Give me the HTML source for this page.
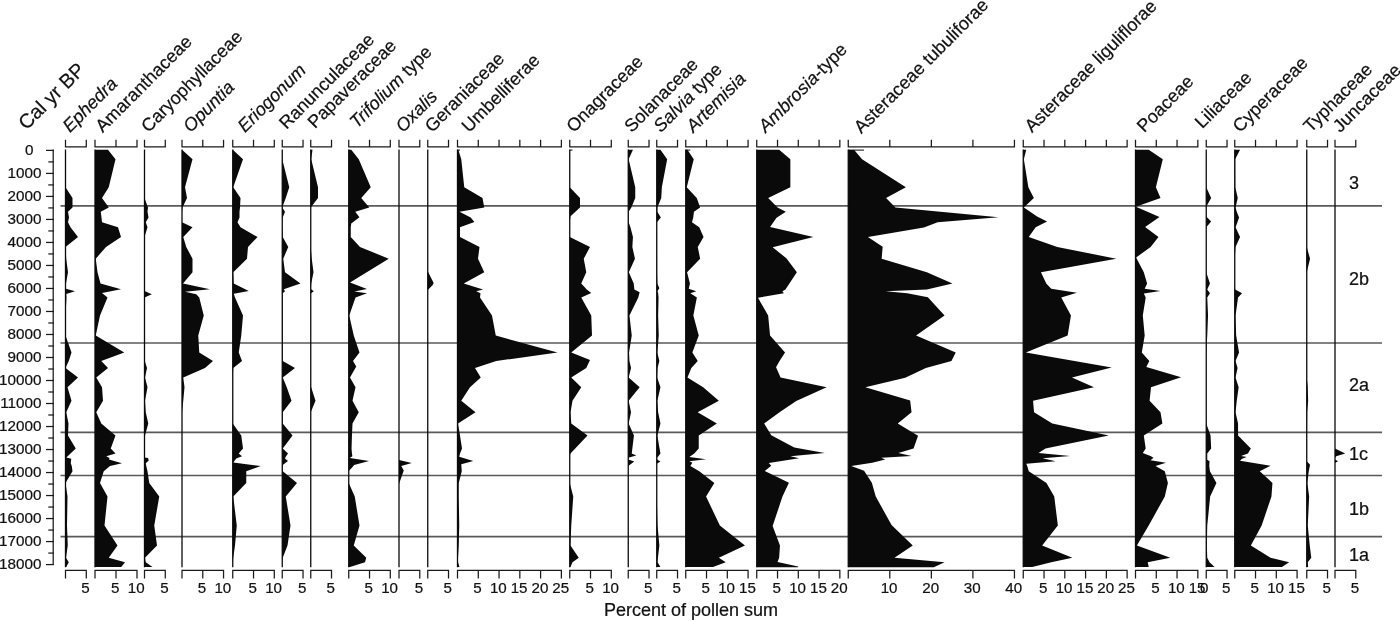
<!DOCTYPE html>
<html><head><meta charset="utf-8"><title>Pollen diagram</title>
<style>
html,body{margin:0;padding:0;background:#fff;}
body{width:1400px;height:621px;position:relative;overflow:hidden;font-family:"Liberation Sans",sans-serif;}
.t{font-family:"Liberation Sans",sans-serif;fill:#111;stroke:#111;stroke-width:0.22px;}
</style></head><body>
<svg width="1400" height="621" viewBox="0 0 1400 621" style="position:absolute;left:0;top:0;will-change:transform">
<rect width="1400" height="621" fill="#fff"/>
<line x1="60.5" y1="205.85" x2="1382" y2="205.85" stroke="#5a5a5a" stroke-width="1.7"/>
<line x1="60.5" y1="343.0" x2="1382" y2="343.0" stroke="#5a5a5a" stroke-width="1.7"/>
<line x1="60.5" y1="432.4" x2="1382" y2="432.4" stroke="#5a5a5a" stroke-width="1.7"/>
<line x1="60.5" y1="475.5" x2="1382" y2="475.5" stroke="#5a5a5a" stroke-width="1.7"/>
<line x1="60.5" y1="536.7" x2="1382" y2="536.7" stroke="#5a5a5a" stroke-width="1.7"/>
<line x1="53.2" y1="149.4" x2="53.2" y2="565.1" stroke="#1a1a1a" stroke-width="1.25"/>
<line x1="46.0" y1="150.40" x2="53.8" y2="150.40" stroke="#1a1a1a" stroke-width="1.25"/>
<line x1="48.3" y1="161.91" x2="53.8" y2="161.91" stroke="#1a1a1a" stroke-width="1.25"/>
<line x1="46.0" y1="173.41" x2="53.8" y2="173.41" stroke="#1a1a1a" stroke-width="1.25"/>
<line x1="48.3" y1="184.92" x2="53.8" y2="184.92" stroke="#1a1a1a" stroke-width="1.25"/>
<line x1="46.0" y1="196.42" x2="53.8" y2="196.42" stroke="#1a1a1a" stroke-width="1.25"/>
<line x1="48.3" y1="207.93" x2="53.8" y2="207.93" stroke="#1a1a1a" stroke-width="1.25"/>
<line x1="46.0" y1="219.43" x2="53.8" y2="219.43" stroke="#1a1a1a" stroke-width="1.25"/>
<line x1="48.3" y1="230.94" x2="53.8" y2="230.94" stroke="#1a1a1a" stroke-width="1.25"/>
<line x1="46.0" y1="242.44" x2="53.8" y2="242.44" stroke="#1a1a1a" stroke-width="1.25"/>
<line x1="48.3" y1="253.94" x2="53.8" y2="253.94" stroke="#1a1a1a" stroke-width="1.25"/>
<line x1="46.0" y1="265.45" x2="53.8" y2="265.45" stroke="#1a1a1a" stroke-width="1.25"/>
<line x1="48.3" y1="276.96" x2="53.8" y2="276.96" stroke="#1a1a1a" stroke-width="1.25"/>
<line x1="46.0" y1="288.46" x2="53.8" y2="288.46" stroke="#1a1a1a" stroke-width="1.25"/>
<line x1="48.3" y1="299.97" x2="53.8" y2="299.97" stroke="#1a1a1a" stroke-width="1.25"/>
<line x1="46.0" y1="311.47" x2="53.8" y2="311.47" stroke="#1a1a1a" stroke-width="1.25"/>
<line x1="48.3" y1="322.98" x2="53.8" y2="322.98" stroke="#1a1a1a" stroke-width="1.25"/>
<line x1="46.0" y1="334.48" x2="53.8" y2="334.48" stroke="#1a1a1a" stroke-width="1.25"/>
<line x1="48.3" y1="345.99" x2="53.8" y2="345.99" stroke="#1a1a1a" stroke-width="1.25"/>
<line x1="46.0" y1="357.49" x2="53.8" y2="357.49" stroke="#1a1a1a" stroke-width="1.25"/>
<line x1="48.3" y1="369.00" x2="53.8" y2="369.00" stroke="#1a1a1a" stroke-width="1.25"/>
<line x1="46.0" y1="380.50" x2="53.8" y2="380.50" stroke="#1a1a1a" stroke-width="1.25"/>
<line x1="48.3" y1="392.00" x2="53.8" y2="392.00" stroke="#1a1a1a" stroke-width="1.25"/>
<line x1="46.0" y1="403.51" x2="53.8" y2="403.51" stroke="#1a1a1a" stroke-width="1.25"/>
<line x1="48.3" y1="415.01" x2="53.8" y2="415.01" stroke="#1a1a1a" stroke-width="1.25"/>
<line x1="46.0" y1="426.52" x2="53.8" y2="426.52" stroke="#1a1a1a" stroke-width="1.25"/>
<line x1="48.3" y1="438.02" x2="53.8" y2="438.02" stroke="#1a1a1a" stroke-width="1.25"/>
<line x1="46.0" y1="449.53" x2="53.8" y2="449.53" stroke="#1a1a1a" stroke-width="1.25"/>
<line x1="48.3" y1="461.04" x2="53.8" y2="461.04" stroke="#1a1a1a" stroke-width="1.25"/>
<line x1="46.0" y1="472.54" x2="53.8" y2="472.54" stroke="#1a1a1a" stroke-width="1.25"/>
<line x1="48.3" y1="484.05" x2="53.8" y2="484.05" stroke="#1a1a1a" stroke-width="1.25"/>
<line x1="46.0" y1="495.55" x2="53.8" y2="495.55" stroke="#1a1a1a" stroke-width="1.25"/>
<line x1="48.3" y1="507.06" x2="53.8" y2="507.06" stroke="#1a1a1a" stroke-width="1.25"/>
<line x1="46.0" y1="518.56" x2="53.8" y2="518.56" stroke="#1a1a1a" stroke-width="1.25"/>
<line x1="48.3" y1="530.07" x2="53.8" y2="530.07" stroke="#1a1a1a" stroke-width="1.25"/>
<line x1="46.0" y1="541.57" x2="53.8" y2="541.57" stroke="#1a1a1a" stroke-width="1.25"/>
<line x1="48.3" y1="553.08" x2="53.8" y2="553.08" stroke="#1a1a1a" stroke-width="1.25"/>
<line x1="46.0" y1="564.58" x2="53.8" y2="564.58" stroke="#1a1a1a" stroke-width="1.25"/>
<text transform="translate(33.6 155.00) scale(1.045 1)" text-anchor="end" font-size="14.6" class="t">0</text>
<text transform="translate(41.5 178.01) scale(1.045 1)" text-anchor="end" font-size="14.6" class="t">1000</text>
<text transform="translate(41.5 201.02) scale(1.045 1)" text-anchor="end" font-size="14.6" class="t">2000</text>
<text transform="translate(41.5 224.03) scale(1.045 1)" text-anchor="end" font-size="14.6" class="t">3000</text>
<text transform="translate(41.5 247.04) scale(1.045 1)" text-anchor="end" font-size="14.6" class="t">4000</text>
<text transform="translate(41.5 270.05) scale(1.045 1)" text-anchor="end" font-size="14.6" class="t">5000</text>
<text transform="translate(41.5 293.06) scale(1.045 1)" text-anchor="end" font-size="14.6" class="t">6000</text>
<text transform="translate(41.5 316.07) scale(1.045 1)" text-anchor="end" font-size="14.6" class="t">7000</text>
<text transform="translate(41.5 339.08) scale(1.045 1)" text-anchor="end" font-size="14.6" class="t">8000</text>
<text transform="translate(41.5 362.09) scale(1.045 1)" text-anchor="end" font-size="14.6" class="t">9000</text>
<text transform="translate(41.5 385.10) scale(1.045 1)" text-anchor="end" font-size="14.6" class="t">10000</text>
<text transform="translate(41.5 408.11) scale(1.045 1)" text-anchor="end" font-size="14.6" class="t">11000</text>
<text transform="translate(41.5 431.12) scale(1.045 1)" text-anchor="end" font-size="14.6" class="t">12000</text>
<text transform="translate(41.5 454.13) scale(1.045 1)" text-anchor="end" font-size="14.6" class="t">13000</text>
<text transform="translate(41.5 477.14) scale(1.045 1)" text-anchor="end" font-size="14.6" class="t">14000</text>
<text transform="translate(41.5 500.15) scale(1.045 1)" text-anchor="end" font-size="14.6" class="t">15000</text>
<text transform="translate(41.5 523.16) scale(1.045 1)" text-anchor="end" font-size="14.6" class="t">16000</text>
<text transform="translate(41.5 546.17) scale(1.045 1)" text-anchor="end" font-size="14.6" class="t">17000</text>
<text transform="translate(41.5 569.18) scale(1.045 1)" text-anchor="end" font-size="14.6" class="t">18000</text>
<path d="M65.50 139.8V146.85H86.28V139.8" fill="none" stroke="#1a1a1a" stroke-width="1.25"/>
<path d="M65.50 578.5V570.4H86.28V578.5" fill="none" stroke="#1a1a1a" stroke-width="1.25"/>
<text transform="translate(85.58 593.0) scale(0.99 1)" text-anchor="middle" font-size="15.3" class="t">5</text>
<line x1="65.50" y1="149.6" x2="65.50" y2="567.3" stroke="#0a0a0a" stroke-width="1.3"/>
<polygon points="65.50,187.20 65.50,187.20 72.50,198.00 72.50,207.50 68.00,211.80 69.00,217.50 68.00,222.20 70.50,227.30 78.00,237.00 65.50,247.00 66.20,258.70 68.00,272.30 66.00,283.50 66.00,288.70 75.00,291.20 66.25,294.00 66.50,297.50 65.50,315.50 65.50,335.50 71.50,352.60 68.75,361.00 65.50,368.00 78.00,377.60 67.50,387.20 71.50,400.70 66.25,412.20 68.50,423.40 68.00,435.50 75.75,448.40 70.50,453.60 66.25,457.50 71.25,458.75 70.75,463.20 71.75,466.00 72.50,471.20 65.50,482.90 67.50,496.50 67.00,525.50 67.75,545.60 66.00,557.80 68.75,562.20 66.25,567.10 65.50,567.10" fill="#0a0a0a"/>
<text transform="translate(69.90 133.20) rotate(-45)" font-size="18.1" font-style="italic" class="t">Ephedra</text>
<path d="M95.00 139.8V146.85H137.00V139.8M116.00 146.85V139.8" fill="none" stroke="#1a1a1a" stroke-width="1.25"/>
<path d="M95.00 578.5V570.4H137.00V578.5M116.00 570.4V578.5" fill="none" stroke="#1a1a1a" stroke-width="1.25"/>
<text transform="translate(115.30 593.0) scale(0.99 1)" text-anchor="middle" font-size="15.3" class="t">5</text>
<text transform="translate(136.30 593.0) scale(0.99 1)" text-anchor="middle" font-size="15.3" class="t">10</text>
<line x1="95.00" y1="149.6" x2="95.00" y2="567.3" stroke="#0a0a0a" stroke-width="1.3"/>
<polygon points="95.00,149.80 108.00,149.80 115.50,159.30 108.75,187.20 102.00,198.00 108.75,207.50 100.75,211.80 101.50,217.50 102.00,222.20 118.00,227.30 121.00,237.00 106.00,247.00 95.75,258.70 97.50,272.30 100.50,283.50 121.00,289.20 102.00,293.00 107.50,297.50 100.00,315.50 95.75,335.50 124.25,352.60 101.25,361.00 108.00,368.00 96.25,377.60 102.00,387.20 103.00,400.70 96.25,412.20 101.25,423.40 115.50,435.50 110.75,448.40 115.50,453.60 106.25,456.20 109.50,458.10 109.00,459.60 122.00,463.20 110.00,466.00 103.75,471.20 100.00,482.90 107.50,496.50 104.50,525.50 117.50,545.60 108.75,557.80 125.00,562.20 121.25,567.10 95.00,567.10" fill="#0a0a0a"/>
<text transform="translate(102.70 133.20) rotate(-45)" font-size="18.1" class="t">Amaranthaceae</text>
<path d="M144.50 139.8V146.85H165.28V139.8" fill="none" stroke="#1a1a1a" stroke-width="1.25"/>
<path d="M144.50 578.5V570.4H165.28V578.5" fill="none" stroke="#1a1a1a" stroke-width="1.25"/>
<text transform="translate(164.58 593.0) scale(0.99 1)" text-anchor="middle" font-size="15.3" class="t">5</text>
<line x1="144.50" y1="149.6" x2="144.50" y2="567.3" stroke="#0a0a0a" stroke-width="1.3"/>
<polygon points="144.50,198.00 144.50,198.00 148.00,207.50 147.50,211.80 148.50,217.50 145.75,222.20 147.50,227.30 144.50,237.00 144.50,291.00 151.75,294.25 144.50,297.50 144.50,360.00 147.00,368.00 145.00,377.60 147.50,387.20 145.00,400.70 145.75,412.20 148.25,423.40 145.00,435.50 144.50,457.50 148.00,458.00 148.75,460.50 145.75,463.20 146.25,466.00 147.50,471.20 149.25,482.90 159.25,496.50 154.25,525.50 157.00,545.60 145.00,557.80 145.75,562.20 152.50,567.10 144.50,567.10" fill="#0a0a0a"/>
<text transform="translate(148.40 133.20) rotate(-45)" font-size="18.1" class="t">Caryophyllaceae</text>
<path d="M182.00 139.8V146.85H223.55V139.8M202.78 146.85V139.8" fill="none" stroke="#1a1a1a" stroke-width="1.25"/>
<path d="M182.00 578.5V570.4H223.55V578.5M202.78 570.4V578.5" fill="none" stroke="#1a1a1a" stroke-width="1.25"/>
<text transform="translate(202.08 593.0) scale(0.99 1)" text-anchor="middle" font-size="15.3" class="t">5</text>
<text transform="translate(222.85 593.0) scale(0.99 1)" text-anchor="middle" font-size="15.3" class="t">10</text>
<line x1="182.00" y1="149.6" x2="182.00" y2="567.3" stroke="#0a0a0a" stroke-width="1.3"/>
<polygon points="182.00,149.80 182.00,149.80 192.50,159.30 185.00,187.20 187.00,198.00 182.50,207.50 182.00,211.80 182.00,222.20 192.50,227.30 183.25,237.00 186.25,247.00 192.50,258.70 192.50,272.30 183.00,283.50 210.00,289.20 185.00,291.80 196.25,294.20 199.25,297.50 203.75,315.50 198.25,335.50 199.25,352.60 213.00,361.00 205.00,368.00 183.25,377.60 184.50,387.20 183.25,400.70 182.00,412.20 182.00,412.20" fill="#0a0a0a"/>
<text transform="translate(190.50 133.20) rotate(-45)" font-size="18.1" font-style="italic" class="t">Opuntia</text>
<path d="M232.75 139.8V146.85H274.30V139.8M253.53 146.85V139.8" fill="none" stroke="#1a1a1a" stroke-width="1.25"/>
<path d="M232.75 578.5V570.4H274.30V578.5M253.53 570.4V578.5" fill="none" stroke="#1a1a1a" stroke-width="1.25"/>
<text transform="translate(252.83 593.0) scale(0.99 1)" text-anchor="middle" font-size="15.3" class="t">5</text>
<text transform="translate(273.60 593.0) scale(0.99 1)" text-anchor="middle" font-size="15.3" class="t">10</text>
<line x1="232.75" y1="149.6" x2="232.75" y2="567.3" stroke="#0a0a0a" stroke-width="1.3"/>
<polygon points="232.75,149.80 232.75,149.80 243.00,159.30 233.25,187.20 240.50,198.00 240.00,207.50 239.50,211.80 239.50,217.50 237.50,222.20 240.50,227.30 257.50,237.00 248.00,247.00 247.00,258.70 233.25,272.30 233.75,283.50 248.75,291.00 233.75,293.80 235.00,297.50 243.00,315.50 241.25,335.50 238.75,352.60 242.00,361.00 233.25,368.00 232.75,377.60 232.75,423.40 241.25,435.50 243.00,448.40 238.75,453.60 242.00,456.20 236.25,458.50 233.25,462.50 260.75,466.00 246.25,471.20 246.25,482.90 233.25,496.50 236.75,525.50 235.00,545.60 233.25,557.80 232.75,562.20 232.75,562.20" fill="#0a0a0a"/>
<text transform="translate(245.05 133.20) rotate(-45)" font-size="18.1" font-style="italic" class="t">Eriogonum</text>
<path d="M282.25 139.8V146.85H303.02V139.8" fill="none" stroke="#1a1a1a" stroke-width="1.25"/>
<path d="M282.25 578.5V570.4H303.02V578.5" fill="none" stroke="#1a1a1a" stroke-width="1.25"/>
<text transform="translate(302.32 593.0) scale(0.99 1)" text-anchor="middle" font-size="15.3" class="t">5</text>
<line x1="282.25" y1="149.6" x2="282.25" y2="567.3" stroke="#0a0a0a" stroke-width="1.3"/>
<polygon points="282.25,159.30 282.25,159.30 289.25,187.20 285.75,198.00 282.25,207.50 285.00,211.80 282.75,217.50 282.25,222.20 282.25,227.30 282.75,237.00 288.25,247.00 283.25,258.70 285.00,272.30 300.50,283.50 283.75,289.25 285.00,291.30 282.75,293.30 282.75,361.00 295.00,368.00 282.75,377.60 286.75,387.20 291.50,400.70 282.75,412.20 282.75,423.40 292.50,435.50 282.75,448.40 288.00,453.60 285.75,456.75 285.00,458.50 288.00,461.00 282.75,465.00 282.75,471.20 297.00,482.90 285.75,496.50 290.50,525.50 287.50,545.60 282.75,557.80 282.25,562.20 282.25,562.20" fill="#0a0a0a"/>
<text transform="translate(286.45 129.90) rotate(-45)" font-size="18.1" class="t">Ranunculaceae</text>
<path d="M310.75 139.8V146.85H331.52V139.8" fill="none" stroke="#1a1a1a" stroke-width="1.25"/>
<path d="M310.75 578.5V570.4H331.52V578.5" fill="none" stroke="#1a1a1a" stroke-width="1.25"/>
<text transform="translate(330.82 593.0) scale(0.99 1)" text-anchor="middle" font-size="15.3" class="t">5</text>
<line x1="310.75" y1="149.6" x2="310.75" y2="567.3" stroke="#0a0a0a" stroke-width="1.3"/>
<polygon points="310.75,149.80 312.50,149.80 311.25,159.30 318.00,187.20 318.00,198.00 310.75,207.50 310.75,247.00 311.75,258.70 313.50,272.30 311.25,283.50 310.75,289.00 313.75,291.30 310.75,293.50 310.75,386.00 315.50,400.70 310.75,412.20 310.75,412.20" fill="#0a0a0a"/>
<text transform="translate(314.95 129.30) rotate(-45)" font-size="18.1" class="t">Papaveraceae</text>
<path d="M348.75 139.8V146.85H390.30V139.8M369.52 146.85V139.8" fill="none" stroke="#1a1a1a" stroke-width="1.25"/>
<path d="M348.75 578.5V570.4H390.30V578.5M369.52 570.4V578.5" fill="none" stroke="#1a1a1a" stroke-width="1.25"/>
<text transform="translate(368.82 593.0) scale(0.99 1)" text-anchor="middle" font-size="15.3" class="t">5</text>
<text transform="translate(389.60 593.0) scale(0.99 1)" text-anchor="middle" font-size="15.3" class="t">10</text>
<line x1="348.75" y1="149.6" x2="348.75" y2="567.3" stroke="#0a0a0a" stroke-width="1.3"/>
<polygon points="348.75,149.80 351.25,149.80 358.75,159.30 370.75,187.20 361.25,198.00 369.25,207.50 355.25,211.80 359.45,217.20 351.25,223.50 350.75,227.30 350.75,237.00 360.00,247.00 388.75,258.70 350.00,282.50 366.95,289.00 354.35,291.40 367.05,293.30 355.50,297.50 349.25,315.50 353.75,335.50 359.50,352.60 353.00,361.00 356.25,366.50 350.00,377.60 355.50,387.20 352.50,400.70 358.75,412.20 352.50,423.40 351.95,435.50 351.55,448.40 351.95,453.60 352.35,456.20 349.75,458.10 369.05,461.00 354.05,464.90 352.15,467.50 348.75,470.90 348.75,482.90 354.75,496.50 359.50,525.50 353.75,545.60 366.25,557.80 365.00,562.20 350.00,567.10 348.75,567.10" fill="#0a0a0a"/>
<text transform="translate(357.05 129.00) rotate(-45)" font-size="18.1" class="t"><tspan font-style="italic">Trifolium</tspan><tspan> type</tspan></text>
<path d="M399.00 139.8V146.85H419.77V139.8" fill="none" stroke="#1a1a1a" stroke-width="1.25"/>
<path d="M399.00 578.5V570.4H419.77V578.5" fill="none" stroke="#1a1a1a" stroke-width="1.25"/>
<text transform="translate(419.07 593.0) scale(0.99 1)" text-anchor="middle" font-size="15.3" class="t">5</text>
<line x1="399.00" y1="149.6" x2="399.00" y2="567.3" stroke="#0a0a0a" stroke-width="1.3"/>
<polygon points="399.00,460.00 399.00,460.00 411.75,463.00 401.25,466.00 403.75,470.50 399.50,482.50 399.00,484.00 399.00,484.00" fill="#0a0a0a"/>
<text transform="translate(402.90 133.20) rotate(-45)" font-size="18.1" font-style="italic" class="t">Oxalis</text>
<path d="M427.75 139.8V146.85H448.52V139.8" fill="none" stroke="#1a1a1a" stroke-width="1.25"/>
<path d="M427.75 578.5V570.4H448.52V578.5" fill="none" stroke="#1a1a1a" stroke-width="1.25"/>
<text transform="translate(447.82 593.0) scale(0.99 1)" text-anchor="middle" font-size="15.3" class="t">5</text>
<line x1="427.75" y1="149.6" x2="427.75" y2="567.3" stroke="#0a0a0a" stroke-width="1.3"/>
<polygon points="427.75,271.25 427.75,271.25 433.65,283.00 432.50,285.20 428.75,288.90 427.75,290.20 427.75,290.20" fill="#0a0a0a"/>
<text transform="translate(432.15 133.20) rotate(-45)" font-size="18.1" class="t">Geraniaceae</text>
<path d="M457.50 139.8V146.85H561.38V139.8M478.27 146.85V139.8M499.05 146.85V139.8M519.83 146.85V139.8M540.60 146.85V139.8" fill="none" stroke="#1a1a1a" stroke-width="1.25"/>
<path d="M457.50 578.5V570.4H561.38V578.5M478.27 570.4V578.5M499.05 570.4V578.5M519.83 570.4V578.5M540.60 570.4V578.5" fill="none" stroke="#1a1a1a" stroke-width="1.25"/>
<text transform="translate(477.57 593.0) scale(0.99 1)" text-anchor="middle" font-size="15.3" class="t">5</text>
<text transform="translate(498.35 593.0) scale(0.99 1)" text-anchor="middle" font-size="15.3" class="t">10</text>
<text transform="translate(519.12 593.0) scale(0.99 1)" text-anchor="middle" font-size="15.3" class="t">15</text>
<text transform="translate(539.90 593.0) scale(0.99 1)" text-anchor="middle" font-size="15.3" class="t">20</text>
<text transform="translate(560.67 593.0) scale(0.99 1)" text-anchor="middle" font-size="15.3" class="t">25</text>
<line x1="457.50" y1="149.6" x2="457.50" y2="567.3" stroke="#0a0a0a" stroke-width="1.3"/>
<line x1="457.50" y1="150.1" x2="460.00" y2="150.1" stroke="#0a0a0a" stroke-width="1"/>
<polygon points="457.50,149.80 458.30,149.80 461.25,159.30 464.25,187.20 482.50,198.00 484.25,207.50 459.50,211.80 470.70,217.50 474.40,221.90 460.00,227.30 460.00,237.00 479.50,247.00 478.00,258.70 484.25,272.30 463.75,283.50 483.00,289.40 476.25,291.30 480.50,293.30 480.00,297.50 492.00,315.50 495.75,335.50 557.50,352.60 496.25,361.00 475.00,368.00 480.75,377.60 470.00,387.20 461.25,400.70 475.50,412.20 458.00,423.40 460.00,435.50 462.00,448.40 460.00,453.60 459.25,456.75 473.25,461.00 461.25,464.25 461.75,471.20 458.75,482.90 458.75,496.50 459.25,525.50 458.75,545.60 458.00,557.80 458.00,562.20 459.50,567.10 457.50,567.10" fill="#0a0a0a"/>
<text transform="translate(469.10 133.20) rotate(-45)" font-size="18.1" class="t">Umbelliferae</text>
<path d="M569.75 139.8V146.85H611.30V139.8M590.52 146.85V139.8" fill="none" stroke="#1a1a1a" stroke-width="1.25"/>
<path d="M569.75 578.5V570.4H611.30V578.5M590.52 570.4V578.5" fill="none" stroke="#1a1a1a" stroke-width="1.25"/>
<text transform="translate(589.82 593.0) scale(0.99 1)" text-anchor="middle" font-size="15.3" class="t">5</text>
<text transform="translate(610.60 593.0) scale(0.99 1)" text-anchor="middle" font-size="15.3" class="t">10</text>
<line x1="569.75" y1="149.6" x2="569.75" y2="567.3" stroke="#0a0a0a" stroke-width="1.3"/>
<line x1="569.75" y1="150.1" x2="572.50" y2="150.1" stroke="#0a0a0a" stroke-width="1"/>
<polygon points="569.75,187.20 569.75,187.20 580.00,198.00 580.00,207.50 570.50,216.25 569.75,222.00 569.75,237.00 590.00,247.00 583.75,258.70 586.25,272.30 581.25,283.50 586.75,289.50 591.25,292.90 581.25,297.50 591.25,315.50 592.00,335.50 571.25,352.60 590.00,360.00 586.25,368.00 571.25,377.60 581.25,387.20 572.50,400.70 570.50,412.20 571.25,423.40 587.50,435.50 570.50,453.60 569.75,455.50 569.75,482.90 573.25,496.50 571.25,525.50 570.50,545.60 578.75,557.80 572.50,562.20 570.50,567.10 569.75,567.10" fill="#0a0a0a"/>
<text transform="translate(573.65 133.20) rotate(-45)" font-size="18.1" class="t">Onagraceae</text>
<path d="M628.25 139.8V146.85H649.02V139.8" fill="none" stroke="#1a1a1a" stroke-width="1.25"/>
<path d="M628.25 578.5V570.4H649.02V578.5" fill="none" stroke="#1a1a1a" stroke-width="1.25"/>
<text transform="translate(648.32 593.0) scale(0.99 1)" text-anchor="middle" font-size="15.3" class="t">5</text>
<line x1="628.25" y1="149.6" x2="628.25" y2="567.3" stroke="#0a0a0a" stroke-width="1.3"/>
<polygon points="628.25,149.80 632.95,149.80 628.65,159.30 635.25,187.20 635.25,198.00 631.35,207.50 628.65,211.80 628.65,222.20 630.45,227.30 632.95,237.00 632.35,247.00 634.95,258.70 628.85,272.30 633.75,283.50 634.35,289.40 639.65,292.30 638.25,297.50 629.45,315.50 631.75,335.50 629.05,352.60 629.45,361.00 631.05,368.00 628.65,377.60 639.65,387.20 628.65,400.70 631.05,412.20 628.65,423.40 633.95,435.50 632.35,448.40 631.75,453.60 636.25,455.50 628.25,457.70 628.25,459.50 634.25,461.40 628.25,465.90 628.25,465.90" fill="#0a0a0a"/>
<text transform="translate(631.65 133.20) rotate(-45)" font-size="18.1" class="t">Solanaceae</text>
<path d="M656.75 139.8V146.85H677.52V139.8" fill="none" stroke="#1a1a1a" stroke-width="1.25"/>
<path d="M656.75 578.5V570.4H677.52V578.5" fill="none" stroke="#1a1a1a" stroke-width="1.25"/>
<text transform="translate(676.82 593.0) scale(0.99 1)" text-anchor="middle" font-size="15.3" class="t">5</text>
<line x1="656.75" y1="149.6" x2="656.75" y2="567.3" stroke="#0a0a0a" stroke-width="1.3"/>
<polygon points="656.75,149.80 660.45,149.80 667.15,159.30 661.85,187.20 661.25,198.00 657.35,207.50 657.35,211.80 660.85,217.50 656.95,222.20 657.05,272.30 657.35,283.50 659.35,288.30 657.35,291.30 658.15,293.30 658.55,297.50 658.15,315.50 658.75,335.50 657.35,352.60 659.35,361.00 657.55,368.00 657.15,377.60 660.45,387.20 657.35,400.70 658.15,412.20 660.45,423.40 657.35,435.50 659.55,448.40 660.45,453.60 657.75,456.90 656.75,458.00 657.35,459.80 660.45,461.40 656.75,463.70 656.75,496.50 657.55,525.50 659.35,545.60 657.95,557.80 657.55,562.20 660.45,567.10 656.75,567.10" fill="#0a0a0a"/>
<text transform="translate(660.65 133.20) rotate(-45)" font-size="18.1" class="t"><tspan font-style="italic">Salvia</tspan><tspan> type</tspan></text>
<path d="M685.75 139.8V146.85H748.08V139.8M706.52 146.85V139.8M727.30 146.85V139.8" fill="none" stroke="#1a1a1a" stroke-width="1.25"/>
<path d="M685.75 578.5V570.4H748.08V578.5M706.52 570.4V578.5M727.30 570.4V578.5" fill="none" stroke="#1a1a1a" stroke-width="1.25"/>
<text transform="translate(705.82 593.0) scale(0.99 1)" text-anchor="middle" font-size="15.3" class="t">5</text>
<text transform="translate(726.60 593.0) scale(0.99 1)" text-anchor="middle" font-size="15.3" class="t">10</text>
<text transform="translate(747.38 593.0) scale(0.99 1)" text-anchor="middle" font-size="15.3" class="t">15</text>
<line x1="685.75" y1="149.6" x2="685.75" y2="567.3" stroke="#0a0a0a" stroke-width="1.3"/>
<line x1="685.75" y1="150.1" x2="690.35" y2="150.1" stroke="#0a0a0a" stroke-width="1"/>
<polygon points="685.75,149.80 687.45,149.80 693.75,159.30 686.75,187.20 696.75,198.00 700.15,207.50 693.95,211.80 693.25,217.50 691.95,222.20 699.25,227.30 703.55,237.00 697.75,247.00 700.15,258.70 687.05,272.30 689.95,283.50 688.75,288.70 696.25,291.30 690.35,293.30 696.85,297.50 693.35,315.50 698.75,335.50 692.35,352.60 697.75,361.00 691.35,368.00 687.45,377.60 703.15,387.20 718.85,400.70 697.65,412.20 716.85,423.40 698.75,435.50 698.75,448.40 694.25,453.60 689.35,456.90 706.05,459.20 689.35,461.20 692.35,462.80 690.35,466.00 699.25,471.20 714.35,482.90 706.05,496.50 719.85,525.50 744.95,545.60 718.85,557.80 725.75,562.20 712.95,567.10 685.75,567.10" fill="#0a0a0a"/>
<text transform="translate(693.45 133.20) rotate(-45)" font-size="18.1" font-style="italic" class="t">Artemisia</text>
<path d="M756.75 139.8V146.85H839.85V139.8M777.52 146.85V139.8M798.30 146.85V139.8M819.08 146.85V139.8" fill="none" stroke="#1a1a1a" stroke-width="1.25"/>
<path d="M756.75 578.5V570.4H839.85V578.5M777.52 570.4V578.5M798.30 570.4V578.5M819.08 570.4V578.5" fill="none" stroke="#1a1a1a" stroke-width="1.25"/>
<text transform="translate(776.82 593.0) scale(0.99 1)" text-anchor="middle" font-size="15.3" class="t">5</text>
<text transform="translate(797.60 593.0) scale(0.99 1)" text-anchor="middle" font-size="15.3" class="t">10</text>
<text transform="translate(818.38 593.0) scale(0.99 1)" text-anchor="middle" font-size="15.3" class="t">15</text>
<text transform="translate(839.15 593.0) scale(0.99 1)" text-anchor="middle" font-size="15.3" class="t">20</text>
<line x1="756.75" y1="149.6" x2="756.75" y2="567.3" stroke="#0a0a0a" stroke-width="1.3"/>
<polygon points="756.75,149.80 779.15,149.80 790.35,159.30 790.35,187.20 768.15,198.00 777.55,207.50 785.85,211.80 776.55,217.70 770.05,227.10 813.35,237.00 772.65,247.20 786.35,258.30 796.85,272.30 785.45,289.40 782.45,291.30 783.85,293.30 757.95,297.80 768.15,315.50 770.05,335.50 785.05,352.60 779.55,361.00 776.05,367.20 780.55,377.40 826.65,387.20 796.25,401.00 779.55,412.20 764.15,423.40 771.25,435.30 794.25,447.50 824.75,453.00 790.35,456.30 799.15,458.20 768.75,463.10 771.25,465.70 764.75,471.00 788.95,482.80 782.45,496.50 772.65,526.00 779.95,545.60 779.15,557.80 777.55,562.00 798.15,566.60 798.15,567.30 756.75,567.30" fill="#0a0a0a"/>
<text transform="translate(765.75 133.20) rotate(-45)" font-size="18.1" class="t"><tspan font-style="italic">Ambrosia</tspan><tspan>-type</tspan></text>
<path d="M848.25 139.8V146.85H1014.45V139.8M889.80 146.85V139.8M931.35 146.85V139.8M972.90 146.85V139.8" fill="none" stroke="#1a1a1a" stroke-width="1.25"/>
<path d="M848.25 578.5V570.4H1014.45V578.5M889.80 570.4V578.5M931.35 570.4V578.5M972.90 570.4V578.5" fill="none" stroke="#1a1a1a" stroke-width="1.25"/>
<text transform="translate(889.10 593.0) scale(0.99 1)" text-anchor="middle" font-size="15.3" class="t">10</text>
<text transform="translate(930.65 593.0) scale(0.99 1)" text-anchor="middle" font-size="15.3" class="t">20</text>
<text transform="translate(972.20 593.0) scale(0.99 1)" text-anchor="middle" font-size="15.3" class="t">30</text>
<text transform="translate(1013.75 593.0) scale(0.99 1)" text-anchor="middle" font-size="15.3" class="t">40</text>
<line x1="848.25" y1="149.6" x2="848.25" y2="567.3" stroke="#0a0a0a" stroke-width="1.3"/>
<line x1="848.25" y1="150.1" x2="863.95" y2="150.1" stroke="#0a0a0a" stroke-width="1"/>
<polygon points="848.25,150.00 854.25,150.00 862.05,159.30 905.85,187.20 886.05,198.00 895.45,207.50 998.55,217.30 937.65,222.20 923.95,227.50 867.95,237.00 882.65,246.80 881.65,258.70 926.85,272.30 952.45,283.50 926.85,289.40 885.65,291.30 907.25,293.30 927.85,297.20 944.55,315.50 916.05,335.50 955.75,352.60 951.45,361.10 925.85,368.00 905.25,377.80 865.35,387.20 910.15,400.40 911.55,412.20 897.75,423.40 918.05,435.70 913.55,448.50 898.35,453.00 911.55,455.90 881.25,457.80 885.25,459.40 872.25,462.70 851.25,466.10 864.05,470.80 871.85,482.80 875.75,496.50 891.55,525.00 912.75,545.60 894.45,557.80 944.55,562.20 933.75,567.30 848.25,567.30" fill="#0a0a0a"/>
<text transform="translate(861.35 134.20) rotate(-45)" font-size="18.1" class="t">Asteraceae tubuliforae</text>
<path d="M1023.25 139.8V146.85H1127.12V139.8M1044.03 146.85V139.8M1064.80 146.85V139.8M1085.58 146.85V139.8M1106.35 146.85V139.8" fill="none" stroke="#1a1a1a" stroke-width="1.25"/>
<path d="M1023.25 578.5V570.4H1127.12V578.5M1044.03 570.4V578.5M1064.80 570.4V578.5M1085.58 570.4V578.5M1106.35 570.4V578.5" fill="none" stroke="#1a1a1a" stroke-width="1.25"/>
<text transform="translate(1043.33 593.0) scale(0.99 1)" text-anchor="middle" font-size="15.3" class="t">5</text>
<text transform="translate(1064.10 593.0) scale(0.99 1)" text-anchor="middle" font-size="15.3" class="t">10</text>
<text transform="translate(1084.88 593.0) scale(0.99 1)" text-anchor="middle" font-size="15.3" class="t">15</text>
<text transform="translate(1105.65 593.0) scale(0.99 1)" text-anchor="middle" font-size="15.3" class="t">20</text>
<text transform="translate(1126.42 593.0) scale(0.99 1)" text-anchor="middle" font-size="15.3" class="t">25</text>
<line x1="1023.25" y1="149.6" x2="1023.25" y2="567.3" stroke="#0a0a0a" stroke-width="1.3"/>
<polygon points="1023.25,149.80 1026.25,149.80 1023.85,159.30 1028.35,187.20 1033.85,198.00 1023.85,207.50 1030.15,211.80 1037.05,216.50 1047.05,221.50 1035.65,227.30 1028.75,237.00 1057.25,247.00 1116.25,258.70 1040.95,272.30 1046.25,283.50 1051.25,288.70 1076.85,292.80 1061.25,297.50 1070.95,315.50 1067.65,335.50 1025.85,352.60 1111.65,367.40 1071.95,377.60 1093.95,387.20 1033.05,400.70 1034.05,412.20 1052.25,423.40 1108.75,435.50 1045.45,448.40 1038.55,452.90 1070.05,455.90 1042.55,458.20 1055.65,461.20 1026.25,463.70 1027.25,466.00 1028.75,471.20 1046.45,482.90 1054.25,496.50 1057.85,525.50 1042.15,545.60 1072.35,557.80 1051.25,562.20 1032.25,567.10 1023.25,567.10" fill="#0a0a0a"/>
<text transform="translate(1031.95 133.20) rotate(-45)" font-size="18.1" class="t">Asteraceae liguliflorae</text>
<path d="M1135.50 139.8V146.85H1197.83V139.8M1156.28 146.85V139.8M1177.05 146.85V139.8" fill="none" stroke="#1a1a1a" stroke-width="1.25"/>
<path d="M1135.50 578.5V570.4H1197.83V578.5M1156.28 570.4V578.5M1177.05 570.4V578.5" fill="none" stroke="#1a1a1a" stroke-width="1.25"/>
<text transform="translate(1155.58 593.0) scale(0.99 1)" text-anchor="middle" font-size="15.3" class="t">5</text>
<text transform="translate(1176.35 593.0) scale(0.99 1)" text-anchor="middle" font-size="15.3" class="t">10</text>
<text transform="translate(1197.12 593.0) scale(0.99 1)" text-anchor="middle" font-size="15.3" class="t">15</text>
<line x1="1135.50" y1="149.6" x2="1135.50" y2="567.3" stroke="#0a0a0a" stroke-width="1.3"/>
<polygon points="1135.50,149.80 1148.70,149.80 1162.80,159.30 1155.90,187.20 1160.50,198.00 1135.90,206.70 1159.50,217.00 1145.10,227.00 1158.50,237.00 1150.60,247.00 1136.10,257.50 1143.80,272.30 1147.10,283.50 1144.70,288.70 1160.50,290.90 1143.80,293.60 1145.70,297.50 1142.80,315.50 1144.70,335.50 1141.80,352.60 1149.30,361.00 1146.30,367.00 1181.10,377.20 1151.00,387.20 1149.60,400.70 1160.50,412.20 1162.40,423.40 1143.80,435.50 1145.70,448.40 1142.80,452.90 1150.50,455.90 1153.50,457.80 1150.50,460.20 1166.00,462.80 1155.50,466.00 1164.80,471.20 1167.90,482.90 1164.80,496.50 1148.70,525.50 1136.90,545.60 1170.30,557.80 1147.70,562.20 1148.70,567.10 1135.50,567.10" fill="#0a0a0a"/>
<text transform="translate(1144.20 133.20) rotate(-45)" font-size="18.1" class="t">Poaceae</text>
<path d="M1206.25 139.8V146.85H1227.03V139.8" fill="none" stroke="#1a1a1a" stroke-width="1.25"/>
<path d="M1206.25 578.5V570.4H1227.03V578.5" fill="none" stroke="#1a1a1a" stroke-width="1.25"/>
<text transform="translate(1226.33 593.0) scale(0.99 1)" text-anchor="middle" font-size="15.3" class="t">5</text>
<line x1="1206.25" y1="149.6" x2="1206.25" y2="567.3" stroke="#0a0a0a" stroke-width="1.3"/>
<polygon points="1206.25,187.20 1206.25,187.20 1211.15,198.00 1206.25,206.70 1206.25,216.50 1211.15,221.50 1206.25,227.30 1206.25,272.30 1209.95,283.50 1207.25,289.40 1209.95,293.30 1207.25,297.50 1208.05,315.50 1207.25,335.50 1206.25,352.60 1206.25,423.40 1210.55,435.50 1211.15,448.40 1207.25,453.60 1207.25,459.80 1209.55,461.20 1209.25,466.00 1209.95,471.20 1216.45,482.90 1210.15,496.50 1207.25,525.50 1206.85,545.60 1207.25,557.80 1209.55,562.20 1214.55,567.10 1206.25,567.10" fill="#0a0a0a"/>
<text transform="translate(1202.35 129.30) rotate(-45)" font-size="18.1" class="t">Liliaceae</text>
<path d="M1234.75 139.8V146.85H1297.08V139.8M1255.53 146.85V139.8M1276.30 146.85V139.8" fill="none" stroke="#1a1a1a" stroke-width="1.25"/>
<path d="M1234.75 578.5V570.4H1297.08V578.5M1255.53 570.4V578.5M1276.30 570.4V578.5" fill="none" stroke="#1a1a1a" stroke-width="1.25"/>
<text transform="translate(1254.83 593.0) scale(0.99 1)" text-anchor="middle" font-size="15.3" class="t">5</text>
<text transform="translate(1275.60 593.0) scale(0.99 1)" text-anchor="middle" font-size="15.3" class="t">10</text>
<text transform="translate(1296.38 593.0) scale(0.99 1)" text-anchor="middle" font-size="15.3" class="t">15</text>
<line x1="1234.75" y1="149.6" x2="1234.75" y2="567.3" stroke="#0a0a0a" stroke-width="1.3"/>
<polygon points="1234.75,149.80 1240.05,149.80 1235.15,159.30 1235.25,187.20 1237.75,198.00 1235.55,207.50 1236.75,211.80 1239.05,217.50 1237.45,222.20 1235.55,227.30 1240.05,237.00 1235.55,247.00 1234.75,258.70 1234.75,283.50 1235.15,289.40 1242.05,293.30 1238.05,297.50 1235.55,315.50 1236.15,335.50 1239.05,352.60 1235.55,361.00 1237.55,368.00 1235.55,377.60 1238.65,387.20 1236.75,400.70 1235.55,412.20 1238.05,423.40 1238.05,435.50 1250.85,448.40 1247.95,453.60 1241.05,456.10 1246.75,456.90 1242.05,458.80 1240.05,460.80 1270.55,465.70 1259.75,471.20 1272.45,482.90 1271.45,496.50 1261.65,525.50 1250.85,545.60 1270.55,557.80 1289.15,562.20 1281.95,567.10 1234.75,567.10" fill="#0a0a0a"/>
<text transform="translate(1239.95 133.20) rotate(-45)" font-size="18.1" class="t">Cyperaceae</text>
<path d="M1306.75 139.8V146.85H1327.53V139.8" fill="none" stroke="#1a1a1a" stroke-width="1.25"/>
<path d="M1306.75 578.5V570.4H1327.53V578.5" fill="none" stroke="#1a1a1a" stroke-width="1.25"/>
<text transform="translate(1326.83 593.0) scale(0.99 1)" text-anchor="middle" font-size="15.3" class="t">5</text>
<line x1="1306.75" y1="149.6" x2="1306.75" y2="567.3" stroke="#0a0a0a" stroke-width="1.3"/>
<polygon points="1306.75,247.00 1306.75,247.00 1310.05,258.70 1306.75,272.30 1306.75,377.60 1307.75,387.20 1308.15,400.70 1307.15,412.20 1306.75,461.20 1310.05,464.70 1308.75,471.20 1307.35,482.90 1309.15,496.50 1307.75,525.50 1309.75,545.60 1311.25,557.80 1307.75,562.20 1308.15,567.10 1306.75,567.10" fill="#0a0a0a"/>
<text transform="translate(1310.65 133.20) rotate(-45)" font-size="18.1" class="t">Typhaceae</text>
<path d="M1335.00 139.8V146.85H1355.78V139.8" fill="none" stroke="#1a1a1a" stroke-width="1.25"/>
<path d="M1335.00 578.5V570.4H1355.78V578.5" fill="none" stroke="#1a1a1a" stroke-width="1.25"/>
<text transform="translate(1355.08 593.0) scale(0.99 1)" text-anchor="middle" font-size="15.3" class="t">5</text>
<line x1="1335.00" y1="149.6" x2="1335.00" y2="567.3" stroke="#0a0a0a" stroke-width="1.3"/>
<polygon points="1335.00,448.50 1335.00,448.50 1345.20,453.50 1336.20,456.30 1335.00,457.80 1335.00,459.50 1338.00,461.20 1335.00,463.10 1335.00,463.10" fill="#0a0a0a"/>
<text transform="translate(1340.20 133.20) rotate(-45)" font-size="18.1" class="t">Juncaceae</text>
<text transform="translate(1204.3 593.0) scale(0.99 1)" text-anchor="middle" font-size="15.3" class="t">0</text>
<text transform="translate(26.4 130.8) rotate(-45)" font-size="20" class="t">Cal yr BP</text>
<text x="691" y="615.5" text-anchor="middle" font-size="18" class="t">Percent of pollen sum</text>
<text x="1349.1" y="189.2" font-size="18" class="t">3</text>
<text x="1349.1" y="284.6" font-size="18" class="t">2b</text>
<text x="1349.1" y="391.20000000000005" font-size="18" class="t">2a</text>
<text x="1349.1" y="460.40000000000003" font-size="18" class="t">1c</text>
<text x="1349.1" y="514.9" font-size="18" class="t">1b</text>
<text x="1349.1" y="561.1" font-size="18" class="t">1a</text>
</svg>
</body></html>
